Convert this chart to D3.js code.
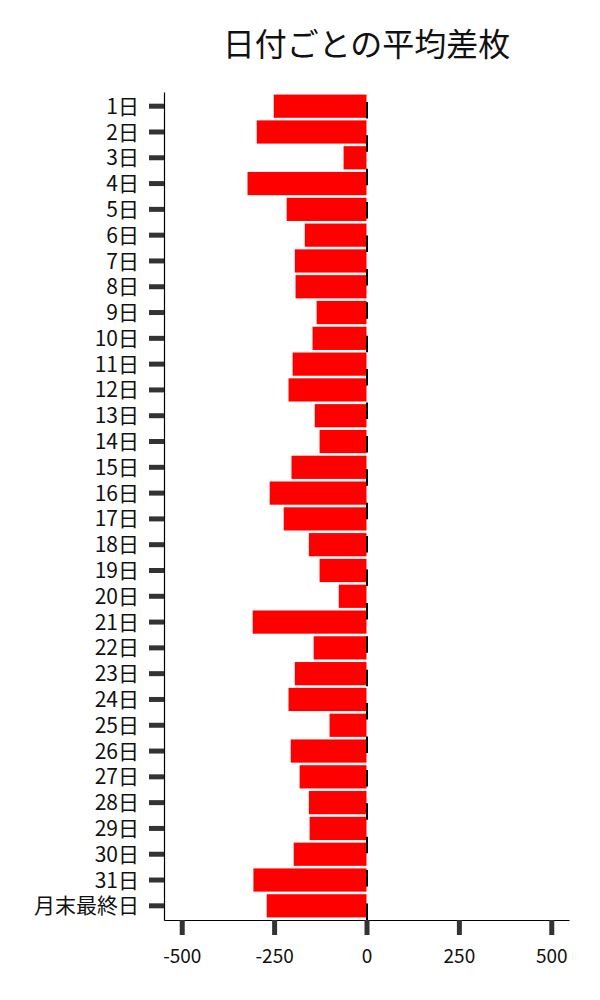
<!DOCTYPE html>
<html>
<head>
<meta charset="utf-8">
<script src="https://cdn.jsdelivr.net/npm/d3@7"></script>
<style>
  body { margin: 0; background: #fff; }
  text { font-family: "Noto Sans CJK JP", "Noto Sans", sans-serif; }
</style>
</head>
<body>
<svg id="chart" width="600" height="1000"></svg>
<script>
// days of the month + last day
var days = ['1日','2日','3日','4日','5日','6日','7日','8日','9日','10日',
    '11日','12日','13日','14日','15日','16日','17日','18日','19日','20日',
    '21日','22日','23日','24日','25日','26日','27日','28日','29日','30日',
    '31日','月末最終日']

// average difference per day
var avgDiff = [-251, -297, -62, -322, -216, -167, -194, -192, -135, -146,
    -200, -211, -140, -127, -203, -262, -224, -156, -127, -75,
    -308, -143, -194, -211, -100, -205, -181, -156, -154, -197,
    -306, -270]

var xTicks = [-500, -250, 0, 250, 500]
var title = '日付ごとの平均差枚'

var svg = d3.select('#chart')
var plotLeft = 164, plotRight = 569, plotTop = 92, plotBottom = 920

var x = d3.scaleLinear().domain([-548, 548]).range([plotLeft, plotRight])
var y = d3.scaleBand().domain(days).range([plotTop, plotBottom])
    .paddingInner(0.1).paddingOuter(0.1)

var data = days.map((d, i) => ({day: d, value: avgDiff[i]}))

// bars
svg.append('g')
    .selectAll('rect')
    .data(data)
    .enter()
    .append('rect')
    .attr('x', d => x(Math.min(0, d.value)))
    .attr('y', d => y(d.day))
    .attr('width', d => Math.abs(x(d.value) - x(0)))
    .attr('height', y.bandwidth())
    .attr('fill', '#ff0000')

// dashed zero line
svg.append('line')
    .attr('x1', x(0) + 0.5).attr('x2', x(0) + 0.5)
    .attr('y1', plotBottom).attr('y2', plotTop)
    .attr('stroke', '#000')
    .attr('stroke-width', 2)
    .attr('stroke-dasharray', '16.5,16.9')

// y axis
var yAxis = svg.append('g')
    .attr('transform', `translate(${plotLeft},0)`)
    .call(d3.axisLeft(y).tickSize(15).tickSizeOuter(0).tickPadding(10))
yAxis.select('.domain').attr('stroke', '#000').attr('stroke-width', 1.2)
yAxis.selectAll('.tick line').attr('stroke', '#333').attr('stroke-width', 5)
yAxis.selectAll('.tick text')
    .attr('font-size', 21)
    .attr('dy', '0.36em')
    .attr('fill', '#111')
    .style('font-family', '"Noto Sans CJK JP", sans-serif')

// x axis
var xAxis = svg.append('g')
    .attr('transform', `translate(0,${plotBottom})`)
    .call(d3.axisBottom(x).tickValues(xTicks).tickSize(15).tickSizeOuter(0).tickPadding(15)
        .tickFormat(d => String(d)))
xAxis.select('.domain').attr('stroke', '#000').attr('stroke-width', 1.2)
xAxis.selectAll('.tick line').attr('stroke', '#333').attr('stroke-width', 5)
xAxis.selectAll('.tick text')
    .attr('font-size', 19)
    .attr('fill', '#111')
    .style('font-family', '"Noto Sans CJK JP", sans-serif')

// title
svg.append('text')
    .attr('x', (plotLeft + plotRight) / 2)
    .attr('y', 56)
    .attr('text-anchor', 'middle')
    .attr('font-size', 32)
    .attr('fill', '#111')
    .text(title)
</script>
</body>
</html>
